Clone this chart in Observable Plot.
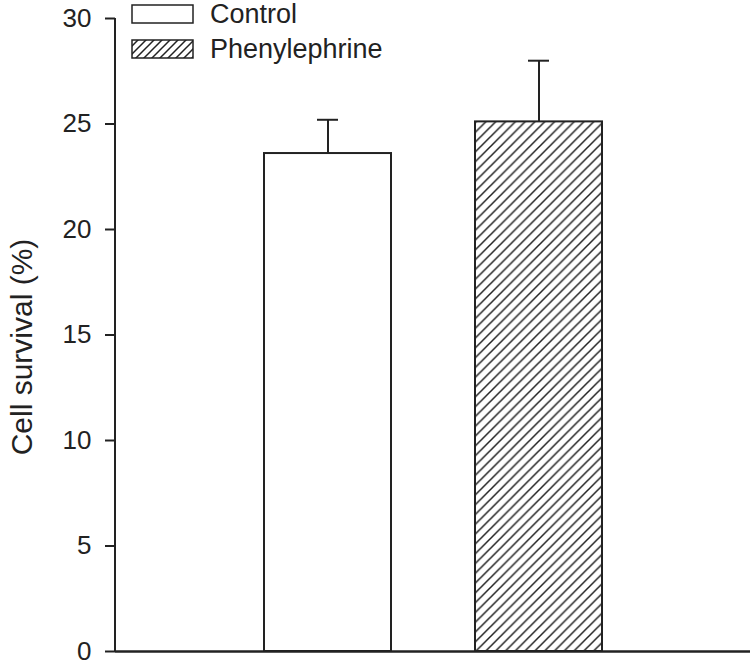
<!DOCTYPE html>
<html>
<head>
<meta charset="utf-8">
<script src="https://cdn.jsdelivr.net/npm/d3@7"></script>
<script src="https://cdn.jsdelivr.net/npm/@observablehq/plot@0.6"></script>
<style>
  body { margin: 0; background: #fff; }
  #wrap { position: relative; width: 750px; height: 667px; font-family: "Liberation Sans", Arial, Helvetica, sans-serif; color: #222; }
  .sw { position: absolute; left: 131px; }
  .lt { position: absolute; left: 210px; font-size: 27px; line-height: 27px; white-space: nowrap; }
  #ylabel { position: absolute; left: 22px; top: 347px; font-size: 30px; line-height: 30px; white-space: nowrap;
            transform: translate(-50%, -50%) rotate(-90deg); }
</style>
</head>
<body>
<div id="wrap">
  <div id="chart"></div>
  <div id="legend"></div>
  <div id="ylabel"></div>
</div>
<script>
const categories = ["Control", "Phenylephrine"];
const means = [23.6, 25.1];
const errors = [1.6, 2.9];
const yTicks = [0, 5, 10, 15, 20, 25, 30];
const yLabel = "Cell survival (%)";

const data = categories.map((c, i) => ({group: c, mean: means[i], err: errors[i]}));
const ink = "#222";

const chart = Plot.plot({
  width: 750,
  height: 667,
  marginLeft: 115,
  marginRight: 0,
  marginTop: 18,
  marginBottom: 16,
  style: {fontFamily: '"Liberation Sans", Arial, Helvetica, sans-serif', fontSize: "26px", color: ink, background: "white"},
  x: {type: "band", domain: categories, paddingInner: 0.4, paddingOuter: 0.7, axis: null},
  y: {domain: [0, 30]},
  marks: [
    Plot.axisY({ticks: yTicks, tickSize: 10, tickPadding: 14, fontSize: 26, strokeWidth: 2, label: null}),
    Plot.barY(data, {filter: d => d.group === categories[0], x: "group", y: "mean", fill: "white", stroke: ink, strokeWidth: 2}),
    Plot.barY(data, {filter: d => d.group === categories[1], x: "group", y: "mean", fill: "url(#hatch)", stroke: ink, strokeWidth: 2}),
    Plot.ruleX(data, {x: "group", y1: "mean", y2: d => d.mean + d.err, stroke: ink, strokeWidth: 2}),
    Plot.tickY(data, {x: "group", y: d => d.mean + d.err, insetLeft: 53, insetRight: 53, stroke: ink, strokeWidth: 2}),
    Plot.ruleY([0], {stroke: ink, strokeWidth: 2.5})
  ]
});

// pattern + left axis line
const svg = d3.select(chart);
const defs = svg.insert("defs", ":first-child");
function addHatch(defsSel, id, s) {
  const p = defsSel.append("pattern").attr("id", id).attr("patternUnits", "userSpaceOnUse")
    .attr("width", s).attr("height", s);
  p.append("rect").attr("width", s).attr("height", s).attr("fill", "white");
  p.append("path").attr("d", `M${-s/2},${s/2} L${s/2},${-s/2} M0,${s} L${s},0 M${s/2},${s*1.5} L${s*1.5},${s/2}`)
    .attr("stroke", ink).attr("stroke-width", 1.5);
}
addHatch(defs, "hatch", 9.8);
const ys = chart.scale("y");
svg.append("line")
  .attr("x1", 115).attr("x2", 115)
  .attr("y1", ys.apply(30)).attr("y2", ys.apply(0))
  .attr("stroke", ink).attr("stroke-width", 2);

document.getElementById("chart").appendChild(chart);
document.getElementById("ylabel").textContent = yLabel;

// legend
const legend = d3.select("#legend");
const swTops = [4, 39];
const textTops = [1, 36];
categories.forEach((c, i) => {
  const sw = legend.append("svg").attr("class", "sw").style("top", swTops[i] + "px")
    .attr("width", 63).attr("height", 20);
  if (i === 1) addHatch(sw.append("defs"), "hatchLegend", 8);
  sw.append("rect").attr("x", 1).attr("y", 1).attr("width", 61).attr("height", 18)
    .attr("fill", i === 0 ? "white" : "url(#hatchLegend)").attr("stroke", ink).attr("stroke-width", 1.5);
  legend.append("div").attr("class", "lt").style("top", textTops[i] + "px").text(c);
});
</script>
</body>
</html>
